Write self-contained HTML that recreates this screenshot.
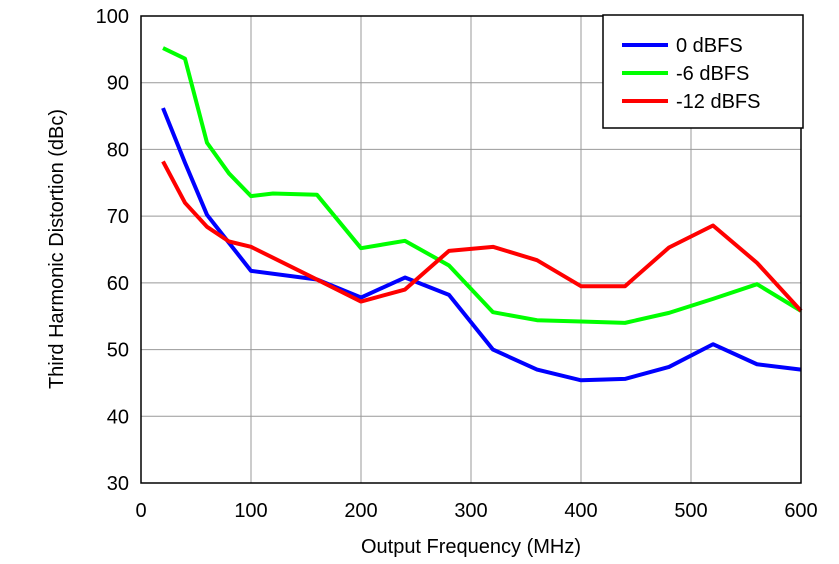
<!DOCTYPE html>
<html><head><meta charset="utf-8"><style>
body{margin:0;background:#fff;}
svg text{font-family:"Liberation Sans",sans-serif;fill:#000;}
</style></head><body>
<svg id="chart" width="839" height="559" xmlns="http://www.w3.org/2000/svg">
<g id="grid"></g>
<g id="series"></g>
<g id="axes"></g>
<text x="471" y="553" font-size="20" text-anchor="middle">Output Frequency (MHz)</text>
<text transform="translate(63,249) rotate(-90)" font-size="20" text-anchor="middle">Third Harmonic Distortion (dBc)</text>
<g id="legend"></g>
</svg>
<script>
const xTicks=[0,100,200,300,400,500,600];
const yTicks=[30,40,50,60,70,80,90,100];
const seriesNames=["0 dBFS","-6 dBFS","-12 dBFS"];
const seriesColors=["#0000ff","#00ff00","#ff0000"];
const xBlue=[20,40,60,80,100,160,200,240,280,320,360,400,440,480,520,560,600];
const yBlue=[86.2,78,70.2,66,61.8,60.5,57.8,60.8,58.2,50,47,45.4,45.6,47.4,50.8,47.8,47];
const xGreen=[20,40,60,80,100,120,160,200,240,280,320,360,400,440,480,520,560,600];
const yGreen=[95.2,93.6,81,76.4,73,73.4,73.2,65.2,66.3,62.6,55.6,54.4,54.2,54,55.5,57.6,59.8,55.8];
const xRed=[20,40,60,80,100,160,200,240,280,320,360,400,440,480,520,560,600];
const yRed=[78.2,72,68.4,66.2,65.4,60.5,57.2,59,64.8,65.4,63.4,59.5,59.5,65.3,68.6,63,55.8];

const NS="http://www.w3.org/2000/svg";
const X0=141,X1=801,Y0=483,Y1=16;
const sx=v=>X0+(v-0)/600*(X1-X0);
const sy=v=>Y0-(v-30)/70*(Y0-Y1);
function mk(t,a,p){const e=document.createElementNS(NS,t);for(const k in a)e.setAttribute(k,a[k]);p.appendChild(e);return e;}
const grid=document.getElementById('grid'),axes=document.getElementById('axes'),ser=document.getElementById('series'),leg=document.getElementById('legend');
xTicks.forEach(v=>{
 const l=mk('line',{x1:sx(v),x2:sx(v),y1:Y1,y2:Y0,stroke:'#999','stroke-width':1},grid);
 
 
 const t=mk('text',{x:sx(v),y:Y0+34,'font-size':20,'text-anchor':'middle'},axes);t.textContent=v;
 
 
});
yTicks.forEach(v=>{
 const l=mk('line',{x1:X0,x2:X1,y1:sy(v),y2:sy(v),stroke:'#999','stroke-width':1},grid);
 
 
 const t=mk('text',{x:X0-12,y:sy(v)+7,'font-size':20,'text-anchor':'end'},axes);t.textContent=v;
 
 
});
const fr=mk('rect',{x:X0,y:Y1,width:X1-X0,height:Y0-Y1,fill:'none',stroke:'#000','stroke-width':1.5},axes);


const data=[[xBlue,yBlue],[xGreen,yGreen],[xRed,yRed]];
data.forEach((d,i)=>{
 const pts=d[0].map((x,j)=>sx(x)+','+sy(d[1][j])).join(' ');
 const p=mk('polyline',{points:pts,fill:'none',stroke:seriesColors[i],'stroke-width':4,'stroke-linejoin':'round'},ser);
 
 
});
const lb=mk('rect',{x:603,y:15,width:200,height:113,fill:'#fff',stroke:'#000','stroke-width':1.5},leg);


seriesNames.forEach((n,i)=>{
 const y=45+i*28;
 const l=mk('line',{x1:622,x2:668,y1:y,y2:y,stroke:seriesColors[i],'stroke-width':4},leg);
 
 
 const t=mk('text',{x:676,y:y+7,'font-size':20},leg);t.textContent=n;
 
 
});
</script>
</body></html>
